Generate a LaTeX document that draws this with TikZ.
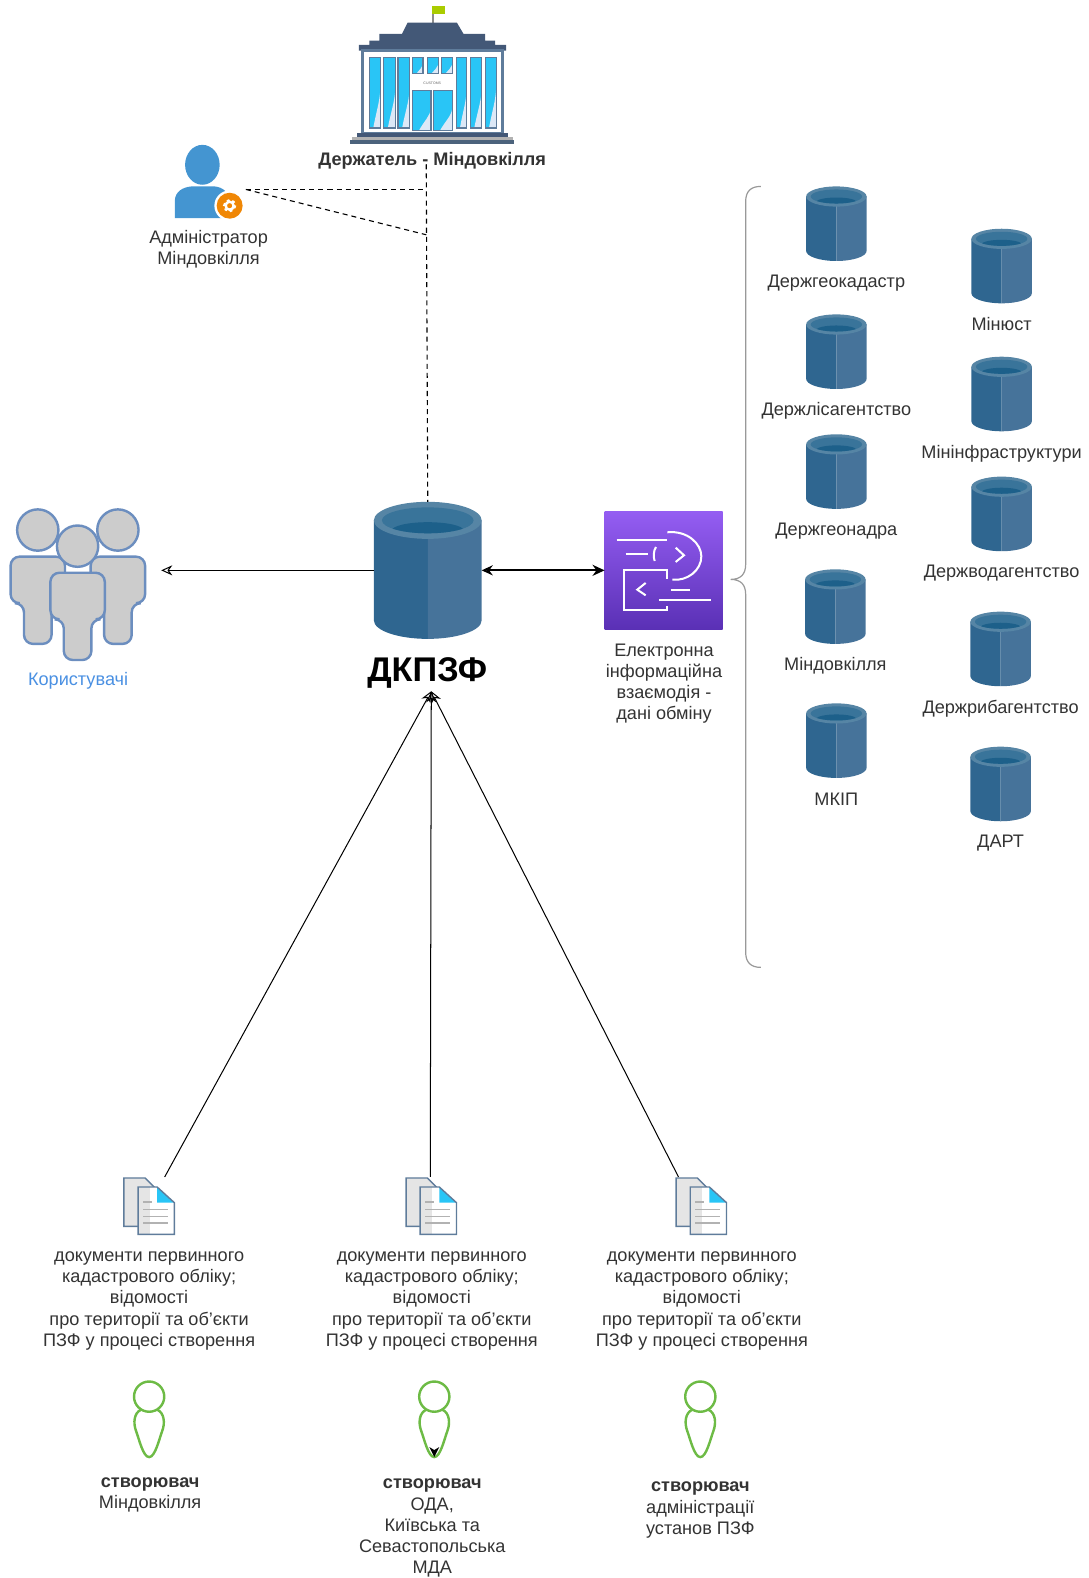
\documentclass[tikz,border=0pt]{standalone}
\usepackage{fontspec}
\setmainfont{Liberation Sans}
\usetikzlibrary{arrows.meta}
\definecolor{roofblue}{HTML}{435877}
\definecolor{framblue}{HTML}{5F7C9B}
\definecolor{glassblue}{HTML}{29C5F6}
\definecolor{glasspale}{HTML}{DCE8F6}
\definecolor{dbleft}{HTML}{2F6690}
\definecolor{dbright}{HTML}{46739A}
\definecolor{dbrim}{HTML}{5685A5}
\definecolor{dbinner}{HTML}{39749A}
\definecolor{dbwater}{HTML}{1D608A}
\definecolor{inkgrey}{HTML}{333333}
\definecolor{adminblue}{HTML}{4495D1}
\definecolor{gearorange}{HTML}{F08705}
\definecolor{flaglime}{HTML}{AACC00}
\definecolor{makergreen}{HTML}{6DBB45}
\definecolor{userblue}{HTML}{6C8EBF}
\definecolor{usertext}{HTML}{4A90E2}
\definecolor{purpletop}{HTML}{945DF2}
\definecolor{purplelow}{HTML}{5A30B5}
\newcommand{\bwin}[4]{%
  \fill[glassblue] (#1,#2) rectangle (#3,#4);
  \fill[glasspale] (#1+0.35*#3-0.35*#1,#4) .. controls (#1+0.65*#3-0.65*#1,#4-0.25*#4+0.25*#2) and (#3-3,#4-0.35*#4+0.35*#2) .. (#3,#4-0.55*#4+0.55*#2) -- (#3,#4) -- cycle;
  \draw[framblue,line width=1.2pt] (#1,#2) rectangle (#3,#4);}
\tikzset{
  txt/.style={font=\fontsize{18}{21}\selectfont,text=inkgrey,align=center,inner sep=0pt,yshift=-1.5pt},
  iconbox/.style={inner sep=0pt,outer sep=0pt},
  dashline/.style={dash pattern=on 5pt off 4pt,line width=1.1pt},
  openarr/.style={-{Stealth[open,length=11pt,width=10pt]},line width=1pt},
  dbcyl/.pic={
    \fill[dbleft] (-30,-27) -- (-30,27) arc (180:90:30 and 10) -- (0,-27) -- cycle;
    \fill[dbright] (0,-27) -- (0,37) arc (90:0:30 and 10) -- (30,-27) -- cycle;
    \fill[dbrim] (0,-27) ellipse (30 and 10);
    \fill[dbinner] (0,-27) ellipse (25.5 and 7);
    \begin{scope}
      \clip (0,-27) ellipse (25.5 and 7);
      \fill[dbwater] (0,-21.5) ellipse (20 and 4.5);
    \end{scope}
  },
  userfig/.pic={
    \draw[draw=userblue,fill=black!20,line width=2.4pt,rounded corners=9pt] (-27,26.4) -- (27,26.4) -- (27,72.6) -- (13.7,72.6) -- (13.7,113) -- (-13.7,113) -- (-13.7,72.6) -- (-27,72.6) -- cycle;
    \draw[draw=userblue,fill=black!20,line width=2.4pt] (0,0) circle (20.5);
  },
  greenfig/.pic={
    \draw[draw=makergreen,line width=2.4pt] (-8,13) .. controls (-15,16) and (-16,26) .. (-13,34) .. controls (-10,42) and (-6,60) .. (0,60) .. controls (6,60) and (10,42) .. (13,34) .. controls (16,26) and (15,16) .. (8,13);
    \draw[draw=makergreen,line width=2.4pt] (0,0) circle (15);
  },
  docfig/.pic={
    \draw[framblue,fill=black!10,line width=1.4pt] (-25,-28) -- (-4,-28) -- (5,-19) -- (5,20) -- (-25,20) -- cycle;
    \fill[white] (-11,-19) rectangle (25,28);
    \fill[black!10] (-11,-19) rectangle (1,28);
    \fill[glassblue] (8,-19) -- (25,-3.5) -- (8,-3.5) -- cycle;
    \draw[framblue,line width=1.4pt] (-11,-19) -- (8,-19) -- (25,-3.5) -- (25,28) -- (-11,28) -- cycle;
    \draw[black!30,line width=1.4pt] (-6,-4) -- (3,-4) (-6,3.5) -- (19,3.5) (-6,10) -- (19,10) (-6,16.5) -- (19,16.5);
  }
}
\begin{document}
\begin{tikzpicture}[x=1pt,y=-1pt]
  \useasboundingbox (0,0) rectangle (1080,1566);
  % Icons, captions and wires:
  \node[iconbox,minimum width=165pt,minimum height=150pt] (users) at (77.5,580){};
  \pic at (37.5,526) {userfig};
  \pic at (117,526) {userfig};
  \pic at (77,542) {userfig};
  \node[txt,text=usertext] (userstxt) at (77.5,674){Користувачі};

  \node[iconbox,minimum width=107pt,minimum height=136pt] (dkpzf) at (424.5,566){};
  \pic[xscale=1.783,yscale=1.838] at (dkpzf) {dbcyl};
  \node[font=\fontsize{34}{38}\bfseries\selectfont,inner sep=0pt] (dkpzftxt) at (424,668){ДКПЗФ};
  \coordinate (dkpzfin) at (428,686);

  % holder building
  \node[iconbox,minimum width=164pt,minimum height=138pt] (holder) at (430,75){};
  \begin{scope}[shift={(298.3,0)},x=.33pt,y=-.33pt]
    \draw[black!45,line width=1.2pt] (398,20) -- (398,68);
    \fill[flaglime] (395,18) rectangle (435,42);
    \fill[roofblue] (322,68) -- (470,68) -- (490,102) -- (555,102) -- (555,122) -- (585,122) -- (585,135) -- (618,135) -- (618,152) -- (175,152) -- (175,135) -- (207,135) -- (207,122) -- (237,122) -- (237,102) -- (305,102) -- cycle;
    \draw[framblue,fill=white,line width=2.4pt] (186,152) rectangle (607,400);
    \bwin{207}{172}{240}{385}\bwin{250}{172}{285}{385}\bwin{293}{172}{328}{385}
    \bwin{337}{172}{368}{222}\bwin{382}{172}{414}{222}\bwin{424}{172}{456}{222}
    \bwin{337}{272}{392}{392}\bwin{400}{272}{456}{392}
    \bwin{468}{172}{500}{385}\bwin{510}{172}{545}{385}\bwin{555}{172}{588}{385}
    \node[font=\fontsize{3.5}{4}\selectfont,text=black!60,inner sep=0pt] (sign) at (396,249){CUSTOMS};
    \fill[roofblue] (170,400) rectangle (625,412);
    \fill[black!30] (155,412) rectangle (640,422);
    \fill[framblue!80!black] (150,422) rectangle (642,434);
  \end{scope}
  \node[txt,font=\fontsize{18}{21}\bfseries\selectfont] (holdertxt) at (429,158){Держатель - Міндовкілля};

  % admin figure
  \node[iconbox,minimum width=68pt,minimum height=74pt] (admin) at (207,181.5){};
  \begin{scope}[shift={(128.9,128.9)},x=.33pt,y=-.33pt]
    \fill[adminblue] (218,105) ellipse (52 and 60);
    \fill[adminblue] (135,265) -- (135,215) .. controls (135,185) and (160,172) .. (185,170) -- (255,170) .. controls (280,172) and (300,190) .. (300,215) -- (300,265) -- cycle;
    \fill[white] (300,228) circle (46);
    \fill[gearorange] (300,228) circle (39);
    \draw[white,line width=2.4pt] (300,228) circle (12);
    \draw[white,line width=2pt,dash pattern=on 2.8pt off 2.9pt] (300,228) circle (17);
  \end{scope}
  \node[txt] (admintxt) at (207,245.5){Адміністратор\\Міндовкілля};
  \coordinate (adminport) at (244,188);
  \coordinate (holdport) at (423,163);
  \coordinate (busa) at (423,188);
  \coordinate (busb) at (423,233);
  \draw[dashline] (holdport) -- (dkpzf.north);
  \draw[dashline] (adminport) -- (busa);
  \draw[dashline] (adminport) -- (busb);

  % exchange icon
  \node[iconbox,minimum width=117pt,minimum height=117pt] (exch) at (658.5,566){};
  \shade[top color=purpletop,bottom color=purplelow] (600,508) rectangle (717,625);
  \begin{scope}[shift={(347.8,476.6)},x=.331pt,y=-.331pt,draw=white,line width=2pt]
    \draw (798,180) -- (950,180);
    \draw (950,156) .. controls (1010,150) and (1052,190) .. (1052,228) .. controls (1052,270) and (1010,303) .. (965,298);
    \draw (825,220) -- (892,220);
    \draw (916,200) .. controls (908,212) and (908,230) .. (912,242);
    \draw (975,202) -- (1000,225) -- (975,245);
    \draw (948,295) -- (948,268) -- (820,268) -- (820,388) -- (948,388) -- (948,378);
    \draw (885,308) -- (860,328) -- (885,345);
    \draw (960,330) -- (1018,330);
    \draw (925,360) -- (1080,360);
  \end{scope}
  \node[txt] (exchtxt) at (659,677){Електронна\\інформаційна\\взаємодія -\\дані обміну};

  \draw[openarr] (dkpzf.west) -- (dkpzf.west -| users.east);
  \draw[{Stealth[open,length=11pt,width=10pt]}-{Stealth[length=12pt,width=11pt]},line width=1.8pt] (dkpzf.east) -- (exch.west);

  % brace
  \draw[black!40,line width=1.2pt] (755,185) .. controls (745,185) and (740,190) .. (740,200) -- (740,560) .. controls (740,570) and (735,575) .. (725,575) .. controls (735,575) and (740,580) .. (740,590) -- (740,945) .. controls (740,955) and (745,960) .. (755,960);

  % registers
  \node[iconbox,minimum width=60pt,minimum height=74pt] (dba) at (830,222){};
  \pic at (dba) {dbcyl};
  \node[txt] (dbatxt) at (830,279.5){Держгеокадастр};
  \node[iconbox,minimum width=60pt,minimum height=74pt] (dbb) at (830,349){};
  \pic at (dbb) {dbcyl};
  \node[txt] (dbbtxt) at (830,406.5){Держлісагентство};
  \node[iconbox,minimum width=60pt,minimum height=74pt] (dbc) at (830,468){};
  \pic at (dbc) {dbcyl};
  \node[txt] (dbctxt) at (830,525.5){Держгеонадра};
  \node[iconbox,minimum width=60pt,minimum height=74pt] (dbd) at (829,602){};
  \pic at (dbd) {dbcyl};
  \node[txt] (dbdtxt) at (829,659.5){Міндовкілля};
  \node[iconbox,minimum width=60pt,minimum height=74pt] (dbe) at (830,735){};
  \pic at (dbe) {dbcyl};
  \node[txt] (dbetxt) at (830,792){МКІП};
  \node[iconbox,minimum width=60pt,minimum height=74pt] (dbf) at (994,264){};
  \pic at (dbf) {dbcyl};
  \node[txt] (dbftxt) at (994,320.5){Мінюст};
  \node[iconbox,minimum width=60pt,minimum height=74pt] (dbg) at (994,391){};
  \pic at (dbg) {dbcyl};
  \node[txt] (dbgtxt) at (994,448.5){Мінінфраструктури};
  \node[iconbox,minimum width=60pt,minimum height=74pt] (dbh) at (994,510){};
  \pic at (dbh) {dbcyl};
  \node[txt] (dbhtxt) at (994,567.5){Держводагентство};
  \node[iconbox,minimum width=60pt,minimum height=74pt] (dbi) at (993,644){};
  \pic at (dbi) {dbcyl};
  \node[txt] (dbitxt) at (993,701.5){Держрибагентство};
  \node[iconbox,minimum width=60pt,minimum height=74pt] (dbj) at (993,778){};
  \pic at (dbj) {dbcyl};
  \node[txt] (dbjtxt) at (993,835){ДАРТ};

  % documents
  \node[iconbox,minimum width=50pt,minimum height=58pt] (doca) at (148,1197){};
  \pic at (doca) {docfig};
  \node[txt] (docatxt) at (148,1289.5){документи первинного\\кадастрового обліку;\\відомості\\про території та об’єкти\\ПЗФ у процесі створення};
  \node[iconbox,minimum width=50pt,minimum height=58pt] (docb) at (428,1197){};
  \pic at (docb) {docfig};
  \node[txt] (docbtxt) at (428.5,1289.5){документи первинного\\кадастрового обліку;\\відомості\\про території та об’єкти\\ПЗФ у процесі створення};
  \node[iconbox,minimum width=50pt,minimum height=58pt] (docc) at (696,1197){};
  \pic at (docc) {docfig};
  \node[txt] (docctxt) at (696.5,1289.5){документи первинного\\кадастрового обліку;\\відомості\\про території та об’єкти\\ПЗФ у процесі створення};
  \draw[openarr] (doca.62) -- (dkpzfin);
  \draw[openarr] (docb.92) -- (dkpzfin);
  \draw[openarr] (docc.128) -- (dkpzfin);

  % creators
  \pic at (148,1386) {greenfig};
  \node[txt] (creatoratxt) at (149,1482){\textbf{створювач}\\Міндовкілля};
  \pic at (431,1386) {greenfig};
  \fill (426,1436) -- (431,1439) -- (436,1436) -- (431,1446) -- cycle;
  \node[txt] (creatorbtxt) at (429,1515){\textbf{створювач}\\ОДА,\\Київська та\\Севастопольська\\МДА};
  \pic at (695,1386) {greenfig};
  \node[txt] (creatorctxt) at (695,1497){\textbf{створювач}\\адміністрації\\установ ПЗФ};
\end{tikzpicture}
\end{document}
